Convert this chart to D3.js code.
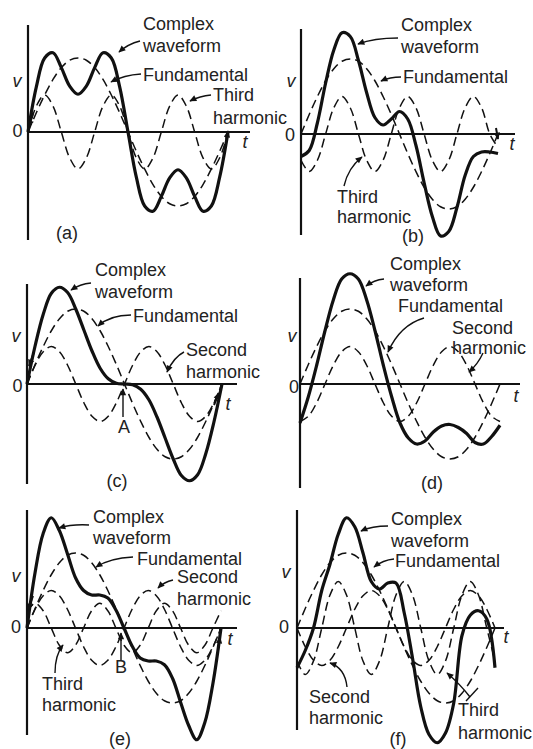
<!DOCTYPE html>
<html>
<head>
<meta charset="utf-8">
<script src="https://cdn.jsdelivr.net/npm/d3@7"></script>
<style>
  body { margin: 0; background: #fff; }
  svg { display: block; }
  text { font-family: "Liberation Sans", Arial, sans-serif; fill: #222; font-size: 18px; }
</style>
</head>
<body>
<svg id="chart"></svg>
<script>
// phase of the fundamental, degrees (one full period)
const angles = [0, 15, 30, 45, 60, 75, 90, 105, 120, 135, 150, 165, 180, 195, 210, 225, 240, 255, 270, 285, 300, 315, 330, 345, 360];

// values in units of the fundamental's peak
const fundamental = [0, .26, .5, .71, .87, .97, 1, .97, .87, .71, .5, .26, 0, -.26, -.5, -.71, -.87, -.97, -1, -.97, -.87, -.71, -.5, -.26, 0];

// (a) fundamental + third harmonic in phase
const thirdA = [0, .35, .5, .35, 0, -.35, -.5, -.35, 0, .35, .5, .35, 0, -.35, -.5, -.35, 0, .35, .5, .35, 0, -.35, -.5, -.35, 0];
const complexA = [0, .61, 1.0, 1.07, .87, .62, .51, .62, .87, 1.07, 1.0, .61, 0, -.61, -1.0, -1.07, -.87, -.62, -.51, -.62, -.87, -1.07, -1.0, -.61, 0];

// (b) third harmonic shifted
const thirdB = [-.35, -.5, -.35, 0, .35, .5, .35, 0, -.35, -.5, -.35, 0, .35, .5, .35, 0, -.35, -.5, -.35, 0, .35, .5, .35, 0, -.18];
const complexB = [-.3, -.22, .15, .68, 1.12, 1.35, 1.3, .98, .55, .22, .12, .2, .3, .2, -.15, -.65, -1.1, -1.36, -1.3, -.98, -.55, -.3, -.24, -.24, -.26];

// (c) second harmonic in phase
const secondC = [0, .25, .43, .5, .43, .25, 0, -.25, -.43, -.5, -.43, -.25, 0, .25, .43, .5, .43, .25, 0, -.25, -.43, -.5, -.43, -.25, 0];
const complexC = [0, .51, .93, 1.21, 1.29, 1.22, 1, .72, .44, .21, .07, .01, 0, -.01, -.07, -.21, -.44, -.72, -1, -1.22, -1.29, -1.21, -.93, -.51, 0];

// (d) second harmonic shifted
const secondD = [-.5, -.43, -.25, 0, .25, .43, .5, .43, .25, 0, -.25, -.43, -.5, -.43, -.25, 0, .25, .43, .5, .43, .25, 0, -.25, -.43, -.5];
const complexD = [-.52, -.17, .25, .71, 1.12, 1.4, 1.47, 1.4, 1.12, .71, .25, -.17, -.52, -.72, -.8, -.76, -.64, -.56, -.54, -.58, -.66, -.78, -.8, -.7, -.55];

// (e) second + third harmonics
const secondE = [0, .25, .43, .5, .43, .25, 0, -.25, -.43, -.5, -.43, -.25, 0, .25, .43, .5, .43, .25, 0, -.25, -.43, -.5, -.43, -.25, 0];
const thirdE = [.23, .33, .23, 0, -.23, -.33, -.23, 0, .23, .33, .23, 0, -.23, -.33, -.23, 0, .23, .33, .23, 0, -.23, -.33, -.23, 0, .23];
const complexE = [0, .74, 1.26, 1.47, 1.3, .99, .67, .5, .44, .44, .4, .24, 0, -.24, -.4, -.44, -.44, -.49, -.67, -.99, -1.3, -1.49, -1.26, -.74, 0];

// (f) second + third harmonics, both shifted
const secondF = [0, -.25, -.43, -.5, -.43, -.25, 0, .25, .43, .5, .43, .25, 0, -.25, -.43, -.5, -.43, -.25, 0, .25, .43, .5, .43, .25, 0];
const thirdF = [-.44, -.62, -.44, 0, .44, .62, .44, 0, -.44, -.62, -.44, 0, .44, .62, .44, 0, -.44, -.62, -.44, 0, .44, .62, .44, 0, -.44];
const complexF = [-.53, -.3, 0, .5, .85, 1.25, 1.47, 1.35, 1.0, .62, .52, .6, .6, .2, -.4, -1.05, -1.42, -1.53, -1.4, -1.0, -.1, .17, .23, .12, -.53];

const svg = d3.select("#chart").attr("width", 533).attr("height", 749);

svg.append("defs").append("marker")
  .attr("id", "head")
  .attr("viewBox", "0 0 10 10")
  .attr("refX", 9).attr("refY", 5)
  .attr("markerWidth", 9).attr("markerHeight", 7)
  .attr("markerUnits", "userSpaceOnUse")
  .attr("orient", "auto")
  .append("path").attr("d", "M0,0.5L10,5L0,9.5z").attr("fill", "#111");

const panels = [
  { tag: "(a)", ox: 28, oy: 132, period: 200, amp: 74, top: 25, bottom: 240, end: 250,
    dashed: [fundamental, thirdA], complex: complexA,
    v: [17, 87], zero: [17.5, 137], t: [245, 148], tagAt: [67, 239],
    labels: [
      { lines: ["Complex", "waveform"], x: 143, y: 30, dy: 22, lead: [[140, 41], [128, 44], [119, 52]] },
      { lines: ["Fundamental"], x: 143, y: 81, lead: [[141, 74], [124, 75], [111, 82]] },
      { lines: ["Third", "harmonic"], x: 213, y: 101, dy: 23, lead: [[211, 95], [200, 96], [190, 101]] }
    ],
    marks: [[[33, 113], [29, 127]], [[226, 143], [228, 131]]] },
  { tag: "(b)", ox: 301, oy: 134, period: 197, amp: 75, top: 29, bottom: 235, end: 515,
    dashed: [fundamental, thirdB], complex: complexB,
    v: [291, 87], zero: [290, 141], t: [512, 150], tagAt: [413, 242],
    labels: [
      { lines: ["Complex", "waveform"], x: 401, y: 31, dy: 22, lead: [[398, 38], [374, 38], [358, 44]] },
      { lines: ["Fundamental"], x: 403, y: 83, lead: [[401, 77], [390, 77], [381, 81]] },
      { lines: ["Third", "harmonic"], x: 337, y: 203, dy: 20, lead: [[344, 186], [348, 168], [362, 157]] }
    ],
    marks: [[[496, 128], [498, 139]]] },
  { tag: "(c)", ox: 27, oy: 384, period: 195, amp: 75, top: 284, bottom: 484, end: 237,
    dashed: [fundamental, secondC], complex: complexC,
    v: [16, 342], zero: [17.5, 392], t: [228, 410], tagAt: [117, 487],
    labels: [
      { lines: ["Complex", "waveform"], x: 95, y: 276, dy: 22, lead: [[91, 283], [80, 284], [71, 290]] },
      { lines: ["Fundamental"], x: 133, y: 322, lead: [[131, 315], [110, 315], [98, 326]] },
      { lines: ["Second", "harmonic"], x: 186, y: 356, dy: 22, lead: [[184, 352], [174, 357], [167, 372]] },
      { lines: ["A"], x: 118, y: 433, lead: [[123, 417], [123, 405], [123, 389]] }
    ],
    marks: [[[34, 352], [29, 366]], [[214, 405], [219, 393]]] },
  { tag: "(d)", ox: 300, oy: 384, period: 200, amp: 75, top: 278, bottom: 488, end: 520,
    dashed: [fundamental, secondD], complex: complexD,
    v: [292, 342], zero: [294, 393], t: [516, 402], tagAt: [432, 489],
    labels: [
      { lines: ["Complex", "waveform"], x: 390, y: 270, dy: 21, lead: [[384, 279], [374, 280], [366, 286]] },
      { lines: ["Fundamental"], x: 398, y: 312, lead: [[424, 318], [400, 325], [388, 352]] },
      { lines: ["Second", "harmonic"], x: 452, y: 334, dy: 20, lead: [[483, 353], [478, 364], [469, 372]] }
    ],
    marks: [] },
  { tag: "(e)", ox: 27, oy: 628, period: 194, amp: 75, top: 510, bottom: 735, end: 237,
    dashed: [fundamental, secondE, thirdE], complex: complexE,
    v: [16, 582], zero: [16, 633], t: [230, 645], tagAt: [120, 745],
    labels: [
      { lines: ["Complex", "waveform"], x: 93, y: 523, dy: 21, lead: [[89, 525], [72, 524], [59, 528]] },
      { lines: ["Fundamental"], x: 137, y: 565, lead: [[133, 557], [110, 558], [96, 567]] },
      { lines: ["Second", "harmonic"], x: 177, y: 583, dy: 22, lead: [[173, 580], [164, 582], [158, 588]] },
      { lines: ["Third", "harmonic"], x: 42, y: 690, dy: 21, lead: [[55, 673], [55, 655], [63, 645]] },
      { lines: ["B"], x: 115, y: 673, lead: [[121, 660], [121, 648], [121, 633]] }
    ],
    marks: [[[33, 596], [28, 610]], [[218, 650], [220, 637]]] },
  { tag: "(f)", ox: 297, oy: 628, period: 198, amp: 75, top: 510, bottom: 730, end: 504,
    dashed: [fundamental, secondF, thirdF], complex: complexF,
    v: [286, 578], zero: [284, 633], t: [506, 643], tagAt: [398, 745],
    labels: [
      { lines: ["Complex", "waveform"], x: 391, y: 525, dy: 22, lead: [[388, 526], [372, 526], [361, 531]] },
      { lines: ["Fundamental"], x: 395, y: 567, lead: [[394, 559], [383, 560], [374, 567]] },
      { lines: ["Second", "harmonic"], x: 309, y: 703, dy: 21, lead: [[347, 687], [345, 668], [330, 663]] },
      { lines: ["Third", "harmonic"], x: 458, y: 716, dy: 23, lead: [[470, 697], [460, 684], [447, 673]] }
    ],
    marks: [] }
];

panels.forEach(p => {
  const g = svg.append("g");
  const x = d3.scaleLinear().domain([0, 360]).range([p.ox, p.ox + p.period]);
  const y = d3.scaleLinear().domain([-1, 1]).range([p.oy + p.amp, p.oy - p.amp]);
  const line = d3.line()
    .defined(d => d != null)
    .x((d, i) => x(angles[i]))
    .y(d => y(d))
    .curve(d3.curveCatmullRom);

  // axes
  g.append("line").attr("x1", p.ox).attr("x2", p.ox).attr("y1", p.top).attr("y2", p.bottom)
    .attr("stroke", "#111").attr("stroke-width", 2.2);
  g.append("line").attr("x1", p.ox).attr("x2", p.end).attr("y1", p.oy).attr("y2", p.oy)
    .attr("stroke", "#111").attr("stroke-width", 2);

  g.selectAll("path.harm").data(p.dashed).enter().append("path")
    .attr("class", "harm")
    .attr("d", line)
    .attr("fill", "none").attr("stroke", "#111").attr("stroke-width", 1.5)
    .attr("stroke-dasharray", "9,5");

  g.append("path").attr("d", line(p.complex))
    .attr("fill", "none").attr("stroke", "#111").attr("stroke-width", 3.2)
    .attr("stroke-linejoin", "round");

  // axis letters
  g.append("text").attr("x", p.v[0]).attr("y", p.v[1]).attr("text-anchor", "middle")
    .style("font-style", "italic").text("v");
  g.append("text").attr("x", p.zero[0]).attr("y", p.zero[1]).attr("text-anchor", "middle").text("0");
  g.append("text").attr("x", p.t[0]).attr("y", p.t[1]).attr("text-anchor", "middle")
    .style("font-style", "italic").text("t");
  g.append("text").attr("x", p.tagAt[0]).attr("y", p.tagAt[1]).attr("text-anchor", "middle").text(p.tag);

  // labels with leader arrows
  p.labels.forEach(l => {
    const tx = g.append("text").attr("x", l.x).attr("y", l.y);
    l.lines.forEach((s, k) => {
      tx.append("tspan").attr("x", l.x).attr("y", l.y + k * (l.dy || 0)).text(s);
    });
    const [s, c, e] = l.lead;
    g.append("path")
      .attr("d", `M${s[0]},${s[1]}Q${c[0]},${c[1]} ${e[0]},${e[1]}`)
      .attr("fill", "none").attr("stroke", "#111").attr("stroke-width", 1.4)
      .attr("marker-end", "url(#head)");
  });

  // small arrowheads sitting on the curves
  p.marks.forEach(m => {
    g.append("line").attr("x1", m[0][0]).attr("y1", m[0][1]).attr("x2", m[1][0]).attr("y2", m[1][1])
      .attr("stroke", "#111").attr("stroke-width", 2).attr("marker-end", "url(#head)");
  });
});

// the extra stroke crossing the "Third harmonic" leader in (f)
svg.append("line").attr("x1", 466).attr("y1", 701).attr("x2", 478).attr("y2", 688)
  .attr("stroke", "#111").attr("stroke-width", 1.4);
</script>
</body>
</html>
